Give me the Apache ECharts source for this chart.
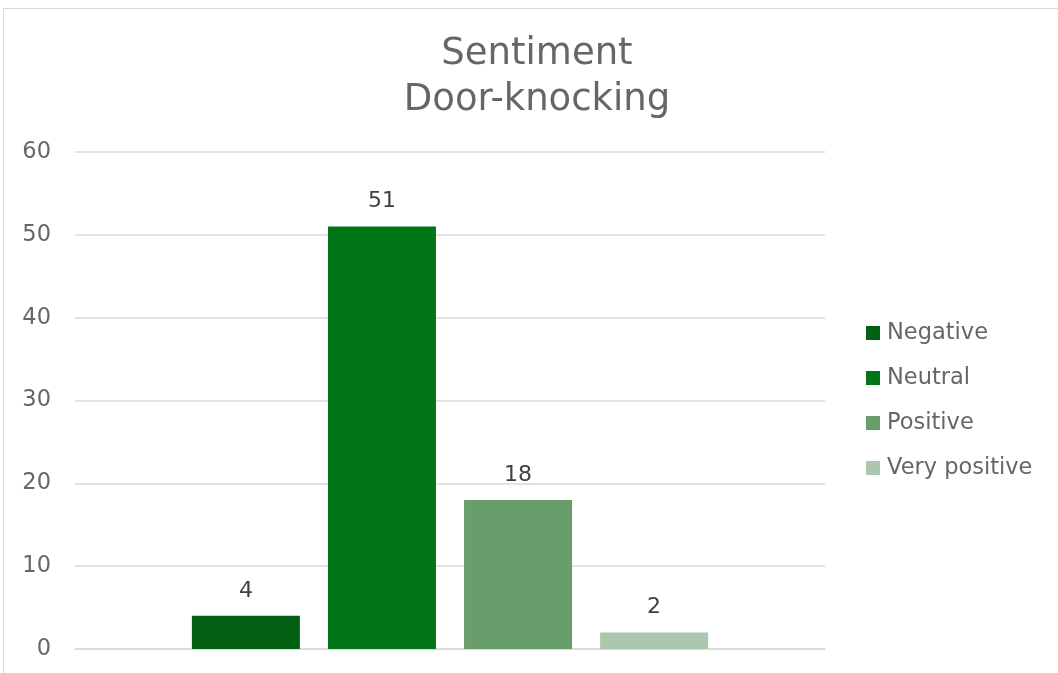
<!DOCTYPE html>
<html><head><meta charset="utf-8">
<script src="https://cdn.jsdelivr.net/npm/echarts@6/dist/echarts.min.js"></script>
<style>
html,body{margin:0;padding:0;background:#fff;overflow:hidden;}
#frame{position:absolute;left:3px;top:8px;width:1100px;height:700px;border:1px solid #d9d9d9;box-sizing:border-box;}
#c{position:absolute;left:0;top:0;width:1058px;height:673px;}
</style></head>
<body>
<div id="frame"></div>
<div id="c"></div>
<script>
const categories = ['Sentiment'];
const seriesNames = ['Negative', 'Neutral', 'Positive', 'Very positive'];
const seriesValues = [[4], [51], [18], [2]];
const seriesColors = ['#035f13', '#007619', '#699d6b', '#adc6ae'];
const yTicks = { min: 0, max: 60, interval: 10 };

const chart = echarts.init(document.getElementById('c'), null, { renderer: 'canvas' });
const font = 'DejaVu Sans, Verdana, sans-serif';
chart.setOption({
  animation: false,
  backgroundColor: 'transparent',
  title: {
    text: 'Sentiment\nDoor-knocking',
    left: 532, top: 26, textAlign: 'center',
    textStyle: { fontFamily: font, fontSize: 37, fontWeight: 'normal', color: '#666666', lineHeight: 46 }
  },
  legend: {
    orient: 'vertical', left: 861, top: 316, itemGap: 21,
    itemWidth: 14, itemHeight: 14, icon: 'rect',
    textStyle: { fontFamily: font, fontSize: 22.5, lineHeight: 24, color: '#666666', padding: [0, 0, 0, 2] },
    data: seriesNames
  },
  grid: { left: 75, right: 233, top: 152, bottom: 24, containLabel: false },
  xAxis: {
    type: 'category', data: categories,
    axisLine: { show: true, lineStyle: { color: '#d9d9d9', width: 1.5 } },
    axisTick: { show: false }, axisLabel: { show: false }
  },
  yAxis: {
    type: 'value', min: yTicks.min, max: yTicks.max, interval: yTicks.interval,
    axisLine: { show: false }, axisTick: { show: false },
    axisLabel: { fontFamily: font, fontSize: 22.5, color: '#666666', margin: 24 },
    splitLine: { lineStyle: { color: '#d9d9d9', width: 1.5 } }
  },
  series: seriesNames.map((n, i) => ({
    name: n, type: 'bar', data: seriesValues[i],
    barWidth: 108, barGap: '26%',
    itemStyle: { color: seriesColors[i] },
    label: { show: true, position: 'top', distance: 14, fontFamily: font, fontSize: 22, color: '#404040' }
  }))
});
</script>
</body></html>
